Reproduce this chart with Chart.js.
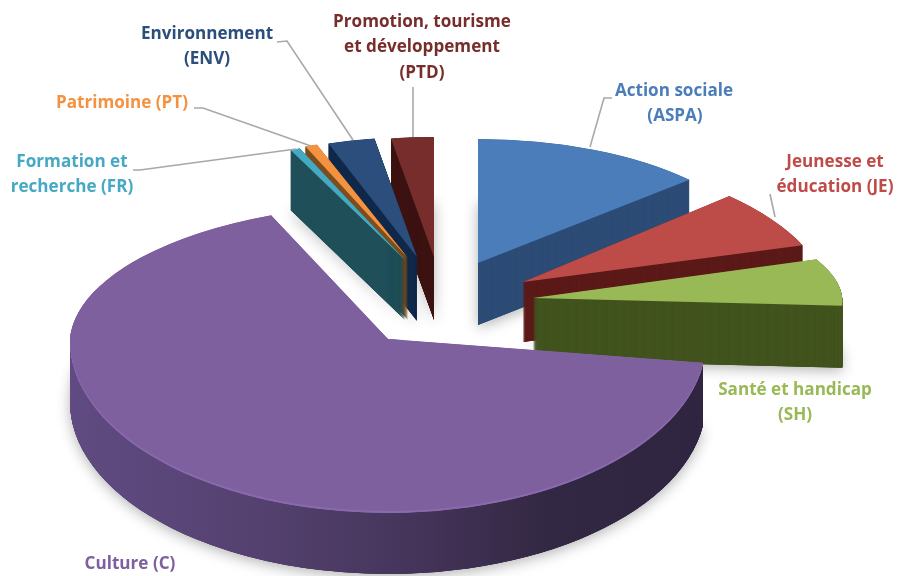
<!DOCTYPE html>
<html><head><meta charset="utf-8">
<style>html,body{margin:0;padding:0;background:#fff;overflow:hidden}canvas{display:block;filter:blur(0.55px)}</style>
<script src="https://cdn.jsdelivr.net/npm/chart.js@4/dist/chart.umd.js"></script>
</head><body>
<canvas id="c" width="897" height="576"></canvas>
<script>
const categories = ['Action sociale (ASPA)','Jeunesse et éducation (JE)','Santé et handicap (SH)','Culture (C)','Formation et recherche (FR)','Patrimoine (PT)','Environnement (ENV)','Promotion, tourisme et développement (PTD)'];
const shares = [13.3, 6.7, 7.2, 66.27, 0.55, 0.7, 2.78, 2.5];

const topColors  = ['#4a7db9','#bd4c49','#98b955','#7f609f','#46a9c4','#f49240','#2b4e7d','#772d2b'];
const wallColors = ['#2e4d77','#5c1b19','#43541f',null,'#1f4f58','#7c4d1e','#10294a','#3d1413'];
const rimColors  = [null,null,null,'#8a6bae',null,null,null,null];
const cultureWall = [[0,'#604b82'],[0.3,'#54416f'],[0.55,'#443459'],[0.75,'#332843'],[1,'#2f2540']];
// 3D projection of each slice: explosion shift, radii, depth, shear
const explodeX = [90,135,145,0,17,20,29,46];
const explodeY = [-76,-57,-41,0,-79,-81,-82,-82];
const radiusX  = [285,303,308,318,287,280,272,275];
const radiusUp = [124,133,105,135,120,120,120,120];
const radiusDn = [124,133,105,172,120,120,120,120];
const shearX   = [0,0.086,0.097,-0.034,0,0,0,0];
const shearY   = [0,0.014,-0.021,0,0,0,0,0];
const depth    = [62,60,62,63,60,62,64,63];
const drawOrder = [7,6,5,4,0,1,2,3];

const labelFont = 'bold 17.1px "Open Sans"';
const labelLines = [
 {c:0,t:'Action sociale',x:674,y:91},{c:0,t:'(ASPA)',x:675,y:116},
 {c:1,t:'Jeunesse et',x:835,y:162},{c:1,t:'éducation (JE)',x:835,y:187},
 {c:2,t:'Santé et handicap',x:795,y:390},{c:2,t:'(SH)',x:795,y:415},
 {c:3,t:'Culture (C)',x:130,y:564},
 {c:4,t:'Formation et',x:72,y:162},{c:4,t:'recherche (FR)',x:72,y:187},
 {c:5,t:'Patrimoine (PT)',x:122,y:103},
 {c:6,t:'Environnement',x:207,y:34},{c:6,t:'(ENV)',x:207,y:59},
 {c:7,t:'Promotion, tourisme',x:422,y:22},{c:7,t:'et développement',x:422,y:47},{c:7,t:'(PTD)',x:422,y:73}
];
const leaders = [
 [[612,98],[604,98],[590,147]],
 [[770,194],[775,217]],
 [[133,170],[140,170],[296,149]],
 [[194,108],[203,108],[311,146]],
 [[277,42],[287,41],[353,140]],
 [[413,87],[413,137]]
];

function stamp(ctx, el, i, d, fill, shadow){
  const R = el.outerRadius;
  const split = radiusUp[i] !== radiusDn[i];
  const parts = split ? [[radiusUp[i],shearX[i],-1],[radiusDn[i],0,1]] : [[radiusUp[i],shearX[i],0]];
  const cy = el.y + explodeY[i] + d;
  const o = el.options;
  el.options = Object.assign({}, o, {backgroundColor: fill, borderWidth: 0});
  for (const [ry, sx, side] of parts){
    if (shadow && side < 0) continue;
    ctx.save();
    if (shadow){ ctx.shadowColor='rgba(0,0,0,0.3)'; ctx.shadowBlur=14; ctx.shadowOffsetY=3; }
    else if (side){
      ctx.beginPath();
      if (side<0) ctx.rect(0,0,897,cy+0.5); else ctx.rect(0,cy-0.5,897,576);
      ctx.clip();
    }
    ctx.translate(el.x + explodeX[i], cy);
    ctx.transform(radiusX[i]/R, shearY[i], sx, ry/R, 0, 0);
    ctx.translate(-el.x, -el.y);
    el.draw(ctx);
    ctx.restore();
  }
  el.options = o;
}

const pie3d = {
  id:'pie3d',
  beforeDatasetsDraw(chart){
    const ctx = chart.ctx, arcs = chart.getDatasetMeta(0).data;
    for (const i of drawOrder) stamp(ctx, arcs[i], i, depth[i], wallColors[i]||'#3a2d50', true);
    for (const i of drawOrder){
      const el = arcs[i];
      let wall = wallColors[i];
      if (!wall){
        wall = ctx.createLinearGradient(el.x-el.outerRadius,0,el.x+el.outerRadius,0);
        cultureWall.forEach(s=>wall.addColorStop(s[0],s[1]));
      }
      for (let d=depth[i]; d>=0.25; d-=0.25) stamp(ctx, el, i, d, (d<=2 && rimColors[i]) ? rimColors[i] : wall, false);
      stamp(ctx, el, i, 0, topColors[i], false);
    }
    return false;
  },
  afterDraw(chart){
    const ctx = chart.ctx;
    ctx.save();
    ctx.strokeStyle='#a8a8a8'; ctx.lineWidth=1.6;
    for (const l of leaders){
      ctx.beginPath();
      l.forEach((p,k)=>k?ctx.lineTo(p[0],p[1]):ctx.moveTo(p[0],p[1]));
      ctx.stroke();
    }
    ctx.font=labelFont; ctx.textAlign='center'; ctx.textBaseline='middle';
    for (const l of labelLines){ ctx.fillStyle=topColors[l.c]; ctx.fillText(l.t,l.x,l.y); }
    ctx.restore();
  }
};

new Chart(document.getElementById('c'),{
  type:'pie',
  data:{labels:categories,datasets:[{data:shares,backgroundColor:topColors,borderWidth:0}]},
  options:{
    responsive:false,animation:false,devicePixelRatio:1,events:[],
    radius:320,
    layout:{padding:{left:0,right:121,top:102,bottom:0}},
    plugins:{legend:{display:false},tooltip:{enabled:false}}
  },
  plugins:[pie3d]
});
</script>
</body></html>
